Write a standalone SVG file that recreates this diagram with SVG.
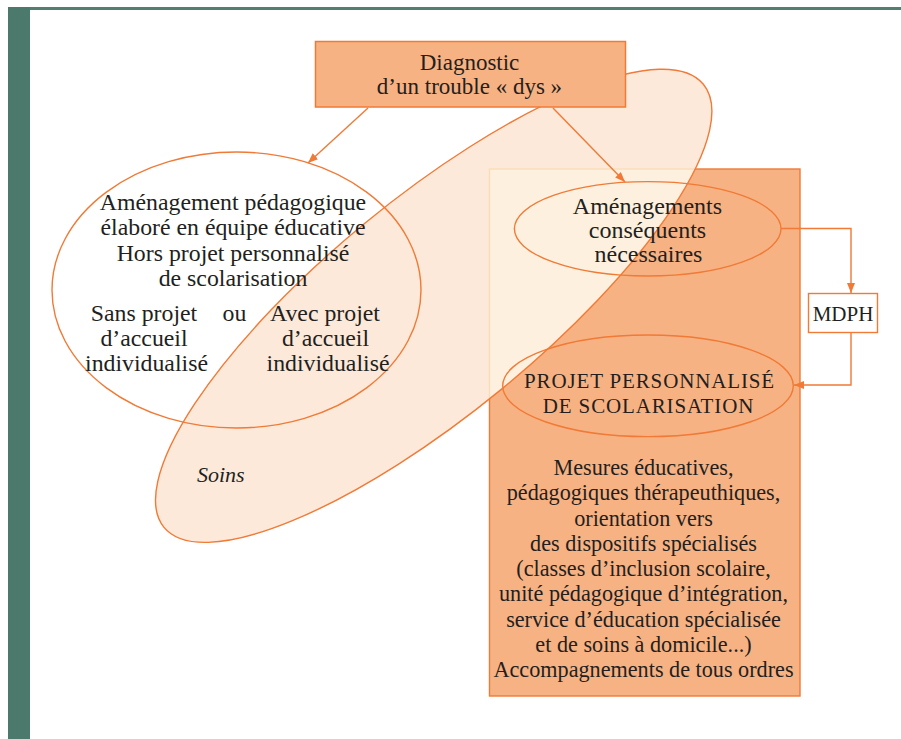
<svg xmlns="http://www.w3.org/2000/svg" width="901" height="739" viewBox="0 0 901 739">
<style>
  text { font-family: "Liberation Serif", "Times New Roman", serif; fill: #231f20; text-anchor: middle; }
  .t23 { font-size: 23px; }
  .t235 { font-size: 23.8px; }
  .t24 { font-size: 24px; }
  .t22 { font-size: 22.2px; }
  .caps { font-size: 21px; letter-spacing: 0.85px; }
  .outline { fill: none; stroke: #f07a36; stroke-width: 1.4; }
  .conn { fill: none; stroke: #f07a36; stroke-width: 1.4; }
</style>
<defs>
  <marker id="arr" markerUnits="userSpaceOnUse" markerWidth="11" markerHeight="9" refX="10" refY="4" orient="auto">
    <path d="M0,0 L10,4 L0,8 z" fill="#f07a36"/>
  </marker>
  <clipPath id="soinsClip">
    <ellipse cx="433.7" cy="305.8" rx="349" ry="107.5" transform="rotate(-39.4 433.7 305.8)"/>
  </clipPath>
</defs>
<rect x="0" y="0" width="901" height="739" fill="#ffffff"/>
<!-- frame -->
<rect x="8" y="7" width="893" height="3" fill="#527f72"/>
<rect x="8" y="7" width="22" height="732" fill="#4b7a6c"/>

<g id="pps-zone">
  <rect x="489.5" y="169" width="310.5" height="527" fill="#f7b283" stroke="#f07a36" stroke-width="1.4"/>
</g>

<g id="soins">
  <ellipse cx="433.7" cy="305.8" rx="349" ry="107.5" transform="rotate(-39.4 433.7 305.8)" fill="#fde9da"/>
  <rect x="489.5" y="169" width="310.5" height="527" fill="#fef0df" stroke="#fbdcb8" stroke-width="1.4" clip-path="url(#soinsClip)"/>
  <ellipse cx="433.7" cy="305.8" rx="349" ry="107.5" transform="rotate(-39.4 433.7 305.8)" class="outline" stroke-width="1.2"/>
  <text x="197" y="482" style="font-size:22px;font-style:italic;text-anchor:start">Soins</text>
</g>

<g id="amenagement-pedagogique">
  <ellipse cx="236.5" cy="290" rx="184.5" ry="138" class="outline" stroke-width="1.2"/>
  <text class="t235" x="233" y="210">Aménagement pédagogique</text>
  <text class="t235" x="233" y="235">élaboré en équipe éducative</text>
  <text class="t235" x="233" y="260.5">Hors projet personnalisé</text>
  <text class="t235" x="233" y="285.5">de scolarisation</text>
  <text class="t235" x="144" y="320.5">Sans projet</text>
  <text class="t235" x="234.5" y="320.5">ou</text>
  <text class="t235" x="325" y="320.5">Avec projet</text>
  <text class="t235" x="144" y="346">d’accueil</text>
  <text class="t235" x="325.5" y="346">d’accueil</text>
  <text class="t235" x="146.5" y="371">individualisé</text>
  <text class="t235" x="328" y="371">individualisé</text>
</g>

<g id="amenagements-consequents">
  <ellipse cx="647.7" cy="228.8" rx="133.3" ry="47.2" class="outline"/>
  <text class="t24" x="647.5" y="213.5">Aménagements</text>
  <text class="t24" x="647.5" y="237.5">conséquents</text>
  <text class="t24" x="648.5" y="262">nécessaires</text>
</g>

<g id="projet-personnalise">
  <ellipse cx="648" cy="385.8" rx="145.3" ry="50.8" class="outline"/>
  <text class="caps" x="649.5" y="388">PROJET PERSONNALISÉ</text>
  <text class="caps" x="648.5" y="413">DE SCOLARISATION</text>
</g>

<g id="mesures">
  <text class="t22" x="643.5" y="475">Mesures éducatives,</text>
  <text class="t22" x="643.5" y="500.25">pédagogiques thérapeuthiques,</text>
  <text class="t22" x="643.5" y="525.5">orientation vers</text>
  <text class="t22" x="643.5" y="550.75">des dispositifs spécialisés</text>
  <text class="t22" x="643.5" y="576">(classes d’inclusion scolaire,</text>
  <text class="t22" x="643.5" y="601.25">unité pédagogique d’intégration,</text>
  <text class="t22" x="643.5" y="626.5">service d’éducation spécialisée</text>
  <text class="t22" x="643.5" y="651.75">et de soins à domicile...)</text>
  <text class="t22" x="643.5" y="677">Accompagnements de tous ordres</text>
</g>

<g id="diagnostic">
  <rect x="315.5" y="41.5" width="310" height="65.5" fill="#f7b283" stroke="#f07a36" stroke-width="1.5"/>
  <text class="t23" x="469.5" y="69.5">Diagnostic</text>
  <text class="t23" x="469.5" y="93.5">d’un trouble « dys »</text>
</g>

<g id="mdph">
  <rect x="808.5" y="293.5" width="69" height="39" fill="#ffffff" stroke="#f07a36" stroke-width="1.4"/>
  <text x="843" y="321" style="font-size:21px">MDPH</text>
</g>

<g id="connectors">
  <line class="conn" x1="368" y1="108" x2="308" y2="163" marker-end="url(#arr)"/>
  <line class="conn" x1="553" y1="108" x2="625" y2="182" marker-end="url(#arr)"/>
  <path class="conn" d="M781,228.5 H851 V293" marker-end="url(#arr)"/>
  <path class="conn" d="M851,332.5 V385 H794" marker-end="url(#arr)"/>
</g>
</svg>
